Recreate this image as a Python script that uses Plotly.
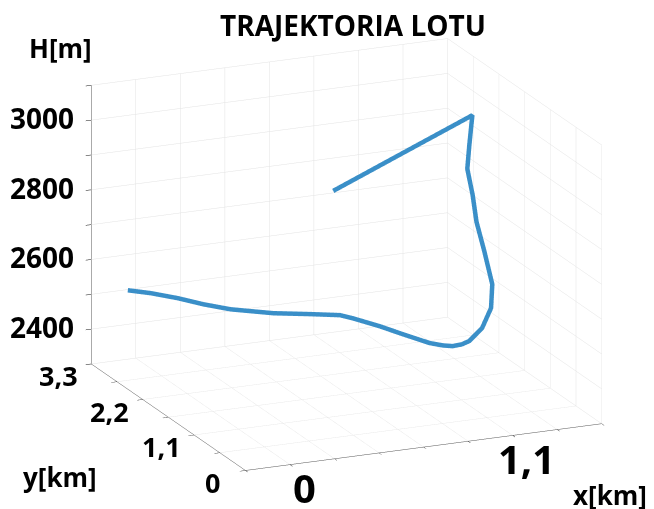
import plotly.graph_objects as go

# Trajectory (x, y in km; H in m)
x_km = [-0.044, 0.045, 0.147, 0.239, 0.342, 0.427, 0.523, 0.674, 0.792, 0.831, 0.901, 0.955, 1.017, 1.060, 1.094,
        1.130, 1.160, 1.217, 1.261, 1.281, 1.265, 1.256, 1.267, 1.273, 1.313, 1.358, 1.015, 0.673]
y_km = [3.28, 3.17, 3.04, 2.88, 2.75, 2.70, 2.62, 2.49, 2.36, 2.25, 1.98, 1.72, 1.42, 1.32, 1.26,
        1.22, 1.19, 1.16, 1.16, 1.22, 1.32, 1.45, 1.58, 1.72, 1.85, 1.98, 1.985, 1.99]
h_m = [2500, 2495, 2485, 2475, 2465, 2458, 2452, 2450, 2450, 2448, 2445, 2442, 2440, 2439, 2440,
       2446, 2456, 2492, 2546, 2607, 2693, 2767, 2831, 2893, 2946, 3016, 2933, 2850]

x_ticks = [-0.22, 0, 0.22, 0.44, 0.66, 0.88, 1.1, 1.32, 1.54]
x_labels = {0: "0", 1.1: "1,1"}
y_ticks = [0, 0.55, 1.1, 1.65, 2.2, 2.75, 3.3]
y_labels = {0: "0", 1.1: "1,1", 2.2: "2,2", 3.3: "3,3"}
z_ticks = [2300, 2400, 2500, 2600, 2700, 2800, 2900, 3000, 3100]
z_labels = {2400: "2400", 2600: "2600", 2800: "2800", 3000: "3000"}

X_RANGE = [-0.22, 1.54]
Y_RANGE = [0, 3.3]
Z_RANGE = [2300, 3100]

FONT = "Open Sans"
SCALE = 1.527

fig = go.Figure()
fig.add_trace(go.Scatter3d(x=x_km, y=y_km, z=h_m, mode="lines",
                           line=dict(color="#3a8fc8", width=9), showlegend=False,
                           hoverinfo="skip"))

common = dict(showbackground=False, gridcolor="#e3e3e3", gridwidth=1,
              showline=True, linecolor="#555555", linewidth=1,
              ticks="outside", tickcolor="#111111", ticklen=6,
              showticklabels=False,
              zeroline=False, showspikes=False, title=dict(text=""))

scene_ann = []
for v, t in x_labels.items():
    scene_ann.append(dict(x=v, y=Y_RANGE[0], z=Z_RANGE[0], text="<b>%s</b>" % t, showarrow=False,
                          xanchor="center", yanchor="middle", xshift=14, yshift=-23,
                          font=dict(family=FONT, size=40, color="black")))
for v, t in y_labels.items():
    scene_ann.append(dict(x=X_RANGE[0], y=v, z=Z_RANGE[0], text="<b>%s</b>" % t, showarrow=False,
                          xanchor="center", yanchor="middle", xshift=-33, yshift=-12,
                          font=dict(family=FONT, size=27, color="black")))
for v, t in z_labels.items():
    scene_ann.append(dict(x=X_RANGE[0], y=Y_RANGE[1], z=v, text="<b>%s</b>" % t, showarrow=False,
                          xanchor="right", yanchor="middle", xshift=-15, yshift=2,
                          font=dict(family=FONT, size=28, color="black")))


def px(xp, yp):
    return xp / 654, 1 - yp / 509


annotations = []
for txt, (xp, yp) in [("H[m]", (60, 48)), ("y[km]", (60, 477)), ("x[km]", (610, 495))]:
    ax_, ay_ = px(xp, yp)
    annotations.append(dict(text="<b>%s</b>" % txt, x=ax_, y=ay_, xref="paper", yref="paper",
                            xanchor="center", yanchor="middle", showarrow=False,
                            font=dict(family=FONT, size=26, color="black")))

fig.update_layout(
    width=654, height=509,
    paper_bgcolor="white",
    margin=dict(l=0, r=0, t=0, b=0),
    hovermode=False,
    title=dict(text="<b>TRAJEKTORIA LOTU</b>", x=353 / 654, xanchor="center", y=1 - 26 / 509,
               yanchor="middle", font=dict(family=FONT, size=28, color="black")),
    scene=dict(
        domain=dict(x=[0.06, 1.0], y=[0.0, 1.0]),
        xaxis=dict(range=X_RANGE, tickvals=x_ticks, **common),
        yaxis=dict(range=Y_RANGE, tickvals=y_ticks, **common),
        zaxis=dict(range=Z_RANGE, tickvals=z_ticks, **common),
        aspectmode="manual",
        aspectratio=dict(x=1 * SCALE, y=0.993 * SCALE, z=0.752 * SCALE),
        camera=dict(projection=dict(type="orthographic"),
                    eye=dict(x=-0.381 * 1.32, y=-0.874 * 1.32, z=0.301 * 1.32),
                    up=dict(x=0, y=0, z=1), center=dict(x=0, y=0, z=0)),
        bgcolor="white",
        annotations=scene_ann,
    ),
    annotations=annotations,
)

fig.write_html("out.html", config={"displayModeBar": False},
               post_script="document.body.style.margin='0';")
